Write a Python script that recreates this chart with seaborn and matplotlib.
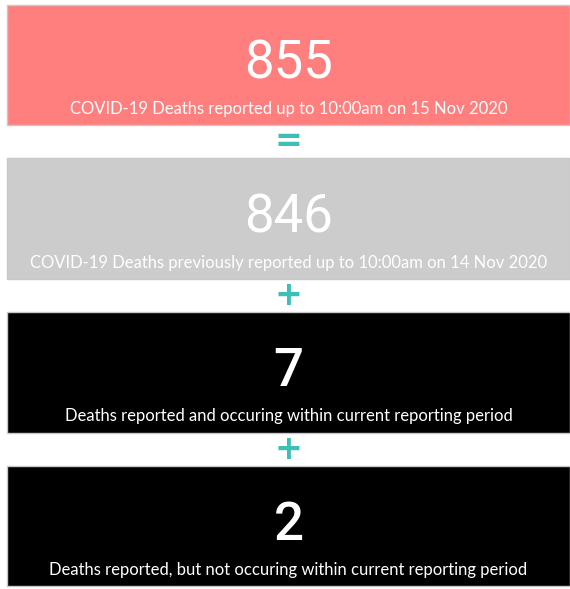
import pandas as pd
import matplotlib.pyplot as plt
import seaborn as sns

# card values and captions
totals = [855, 846, 7, 2]
captions = [
    'COVID-19 Deaths reported up to 10:00am on 15 Nov 2020',
    'COVID-19 Deaths previously reported up to 10:00am on 14 Nov 2020',
    'Deaths reported and occuring within current reporting period',
    'Deaths reported, but not occuring within current reporting period',
]
card_colors = ['#FF7F7F', '#CCCCCC', '#000000', '#000000']
operators = ['=', '+', '+']

sns.set_theme(style='white')
plt.rcParams['font.family'] = ['Lato', 'DejaVu Sans']

cards = pd.DataFrame({'caption': captions, 'span': [1] * len(captions)})

fig = plt.figure(figsize=(5.70, 5.89), dpi=100)
ax = fig.add_axes([0, 0, 1, 1])

sns.barplot(
    data=cards, y='caption', x='span',
    hue='caption', palette=dict(zip(captions, card_colors)),
    orient='h', width=0.787, saturation=1, legend=False, ax=ax,
    edgecolor='#c8c8c8', linewidth=1
    )

ax.set_xlim(-0.0124, 1)
ax.set_ylim(3.41, -0.423)
ax.set_axis_off()

for i, (v, cap) in enumerate(zip(totals, captions)):
    ax.text(0.5, i + 0.088, str(v), ha='center', va='baseline',
            color='white', fontsize=38, family=['Roboto', 'DejaVu Sans'],
            fontweight='medium' if i > 1 else 'normal')
    ax.text(0.5, i + 0.318, cap, ha='center', va='baseline',
            color='white', fontsize=12)

for i, op in enumerate(operators):
    ax.text(0.5, i + 0.5, op, ha='center', va='center',
            color='#3DBFB5', fontsize=24, fontweight='bold',
            family=['DejaVu Sans'])

fig.savefig('out.png', dpi=100)
